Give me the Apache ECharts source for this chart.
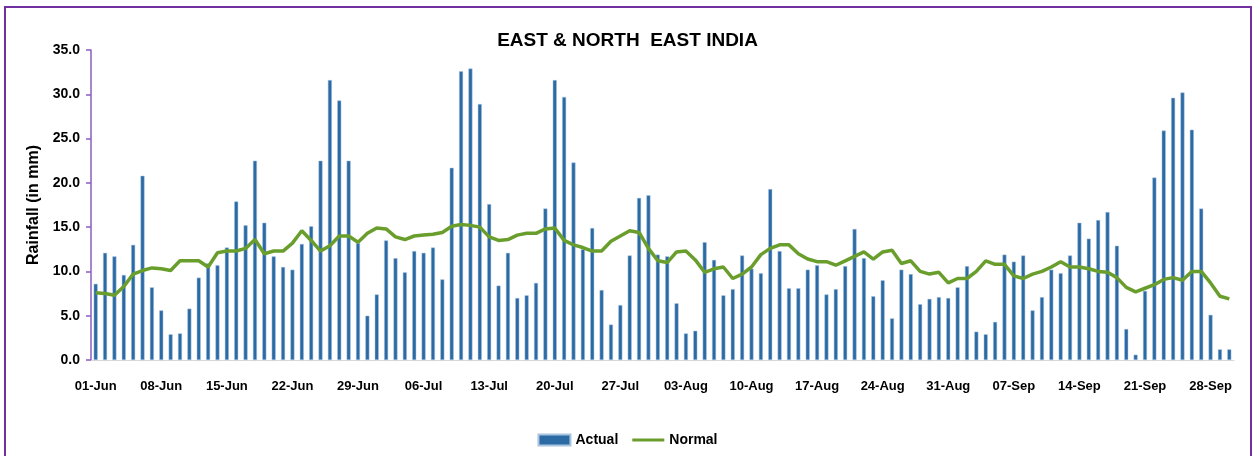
<!DOCTYPE html>
<html>
<head>
<meta charset="utf-8">
<script src="https://cdn.jsdelivr.net/npm/echarts@6/dist/echarts.min.js"></script>
<style>
html,body{margin:0;padding:0;background:#fff;}
#chart{width:1255px;height:456px;}
</style>
</head>
<body>
<div id="chart"></div>
<script>
const monthNames = ['Jun', 'Jul', 'Aug', 'Sep'];
const monthDays = [30, 31, 31, 30];
const categories = [];
monthNames.forEach(function (m, i) {
  for (let d = 1; d <= monthDays[i]; d++) {
    categories.push((d < 10 ? '0' + d : '' + d) + '-' + m);
  }
});

const actual = [
  8.6, 12.1, 11.7, 9.6, 13.0, 20.8, 8.2, 5.6, 2.9, 3.0, 5.8, 9.3, 10.9, 10.7, 12.7, 17.9, 15.2, 22.5, 15.5, 11.7,
  10.5, 10.2, 13.1, 15.1, 22.5, 31.6, 29.3, 22.5, 13.2, 5.0, 7.4, 13.5, 11.5, 9.9, 12.3, 12.1, 12.7, 9.1, 21.7, 32.6, 32.9,
  28.9, 17.6, 8.4, 12.1, 7.0, 7.3, 8.7, 17.1, 31.6, 29.7, 22.3, 12.5, 14.9, 7.9, 4.0, 6.2, 11.8, 18.3, 18.6, 11.9,
  11.7, 6.4, 3.0, 3.3, 13.3, 11.3, 7.3, 8.0, 11.8, 10.3, 9.8, 19.3, 12.3, 8.1, 8.1, 10.2, 10.7, 7.4, 8.0, 10.6,
  14.8, 11.5, 7.2, 9.0, 4.7, 10.2, 9.7, 6.3, 6.9, 7.1, 7.0, 8.2, 10.6, 3.2, 2.9, 4.3, 11.9, 11.1, 11.8, 5.6,
  7.1, 10.2, 9.8, 11.8, 15.5, 13.7, 15.8, 16.7, 12.9, 3.5, 0.6, 7.8, 20.6, 25.9, 29.6, 30.2, 26.0, 17.1, 5.1, 1.2, 1.2
];

const normal = [
  7.6, 7.5, 7.3, 8.3, 9.7, 10.1, 10.4, 10.3, 10.1, 11.2, 11.2, 11.2, 10.5, 12.1, 12.3, 12.3, 12.6, 13.6, 12.0, 12.3,
  12.3, 13.2, 14.6, 13.5, 12.3, 12.9, 14.0, 14.0, 13.3, 14.3, 14.9, 14.8, 13.9, 13.6, 14.0, 14.1, 14.2, 14.4, 15.1, 15.3, 15.2,
  15.0, 13.9, 13.5, 13.6, 14.1, 14.3, 14.3, 14.8, 14.9, 13.5, 13.0, 12.7, 12.3, 12.3, 13.4, 14.0, 14.6, 14.4, 12.6, 11.2,
  11.0, 12.2, 12.3, 11.3, 9.9, 10.3, 10.5, 9.2, 9.7, 10.5, 11.9, 12.6, 13.0, 13.0, 12.0, 11.4, 11.1, 11.1, 10.7, 11.2,
  11.7, 12.2, 11.4, 12.2, 12.4, 10.9, 11.2, 10.0, 9.7, 9.9, 8.7, 9.2, 9.2, 10.0, 11.2, 10.8, 10.8, 9.5, 9.2, 9.7,
  10.0, 10.5, 11.1, 10.5, 10.5, 10.3, 10.0, 9.9, 9.3, 8.2, 7.7, 8.1, 8.5, 9.1, 9.3, 9.0, 10.0, 10.0, 8.7, 7.2, 6.9
];

const FONT = "'Liberation Sans', Arial, sans-serif";

const chart = echarts.init(document.getElementById('chart'), null, {renderer: 'canvas'});
chart.setOption({
  animation: false,
  backgroundColor: '#ffffff',
  graphic: [{
    type: 'rect',
    shape: {x: 5, y: 7, width: 1246, height: 470},
    style: {fill: 'none', stroke: '#7030a0', lineWidth: 2},
    silent: true
  }],
  title: {
    text: 'EAST & NORTH  EAST INDIA',
    left: 'center',
    top: 26,
    textStyle: {fontFamily: FONT, fontWeight: 'bold', fontSize: 19, color: '#000'}
  },
  legend: {
    bottom: 4,
    left: 'center',
    itemGap: 14,
    itemWidth: 32,
    itemHeight: 11,
    textStyle: {fontFamily: FONT, fontWeight: 'bold', fontSize: 14, color: '#000'},
    data: [
      {name: 'Actual', icon: 'rect'},
      {name: 'Normal', icon: 'path://M0,4 L32,4 L32,7 L0,7 Z'}
    ]
  },
  grid: {left: 91, right: 21, top: 50, bottom: 96},
  xAxis: {
    type: 'category',
    data: categories,
    boundaryGap: true,
    axisLine: {show: true, lineStyle: {color: '#d9d9d9', width: 1}},
    axisTick: {show: false},
    axisLabel: {
      interval: 6,
      margin: 20,
      fontFamily: FONT,
      fontWeight: 'bold',
      fontSize: 13,
      color: '#000'
    },
    splitLine: {show: false}
  },
  yAxis: {
    type: 'value',
    min: 0,
    max: 35,
    interval: 5,
    name: 'Rainfall (in mm)',
    nameLocation: 'middle',
    nameGap: 45,
    nameRotate: 90,
    nameTextStyle: {fontFamily: FONT, fontWeight: 'bold', fontSize: 16, color: '#000'},
    axisLine: {show: true, lineStyle: {color: '#8a5cc2', width: 1.5}},
    axisTick: {show: true, length: 5, lineStyle: {color: '#8a5cc2', width: 1.5}},
    axisLabel: {
      margin: 11,
      fontFamily: FONT,
      fontWeight: 'bold',
      fontSize: 14,
      color: '#000',
      formatter: function (v) { return v.toFixed(1); }
    },
    splitLine: {show: false}
  },
  series: [
    {
      name: 'Actual',
      type: 'bar',
      data: actual,
      barWidth: 4,
      itemStyle: {color: '#2c6aa4', borderColor: '#a9c4e0', borderWidth: 0.5}
    },
    {
      name: 'Normal',
      type: 'line',
      data: normal,
      symbol: 'none',
      smooth: false,
      lineStyle: {color: '#6a9e2c', width: 3.5},
      itemStyle: {color: '#6a9e2c'},
      z: 3
    }
  ]
});
</script>
</body>
</html>
